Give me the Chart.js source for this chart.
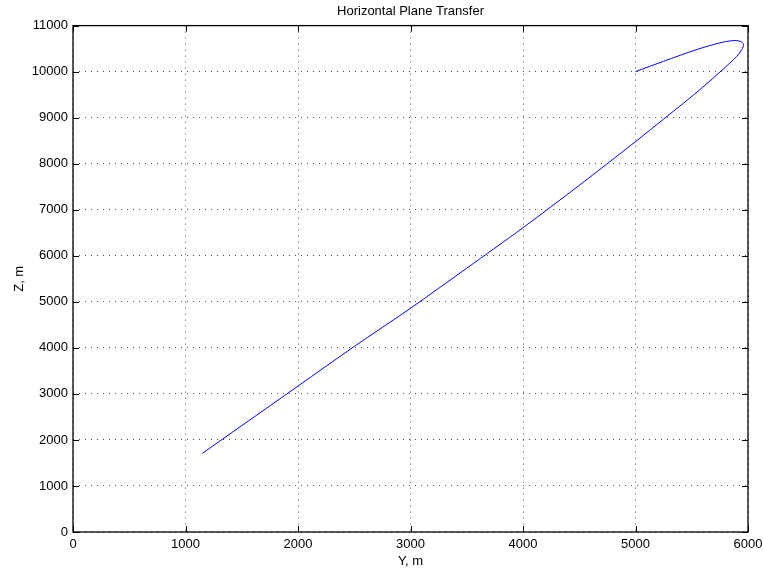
<!DOCTYPE html>
<html>
<head>
  <meta charset="utf-8" />
  <title>Horizontal Plane Transfer</title>
  <style>
    html, body { margin: 0; padding: 0; background: #fff; }
    canvas { display: block; }
  </style>
</head>
<body>
  <canvas id="stage" width="763" height="569"></canvas>

  <script src="https://cdn.jsdelivr.net/npm/chart.js@4.4.0/dist/chart.umd.min.js"></script>
  <script>
    // trajectory: Y (horizontal) and Z (vertical), metres
    const yPos = [1150, 1500, 2000, 2500, 3000, 3500, 4000, 4500, 5000, 5250, 5480, 5630,
                  5750, 5900, 5945, 5960, 5930, 5870, 5750, 5545, 5250, 5000];
    const zPos = [1710, 2310, 3170, 4030, 4860, 5730, 6610, 7530, 8480, 8970, 9420, 9730,
                  9990, 10330, 10480, 10590, 10660, 10675, 10625, 10480, 10225, 10000];

    const xTicks = [0, 1000, 2000, 3000, 4000, 5000, 6000];
    const yTicks = [0, 1000, 2000, 3000, 4000, 5000, 6000, 7000, 8000, 9000, 10000, 11000];

    const FONT = 'Liberation Sans, Arial, Helvetica, sans-serif';
    const points = yPos.map((y, i) => ({ x: y, y: zPos[i] }));

    // box round the axes with inward tick marks on all four sides
    const boxPlugin = {
      id: 'box',
      afterDatasetsDraw(chart) {
        const { ctx, chartArea: a, scales } = chart;
        const len = 6;
        ctx.save();
        ctx.strokeStyle = '#000';
        ctx.lineWidth = 1;
        ctx.beginPath();
        xTicks.forEach(v => {
          const px = Math.round(scales.x.getPixelForValue(v)) + 0.5;
          ctx.moveTo(px, a.bottom); ctx.lineTo(px, a.bottom - len);
          ctx.moveTo(px, a.top); ctx.lineTo(px, a.top + len);
        });
        yTicks.forEach(v => {
          const py = Math.round(scales.y.getPixelForValue(v)) + 0.5;
          ctx.moveTo(a.left, py); ctx.lineTo(a.left + len, py);
          ctx.moveTo(a.right, py); ctx.lineTo(a.right - len, py);
        });
        ctx.stroke();
        ctx.lineWidth = 1.3;
        ctx.strokeRect(a.left, a.top, a.right - a.left, a.bottom - a.top);
        ctx.restore();
      }
    };

    const plain = v => String(v);

    new Chart(document.getElementById('stage'), {
      type: 'scatter',
      data: {
        datasets: [{
          data: points,
          showLine: true,
          borderColor: 'rgb(0, 0, 255)',
          borderWidth: 1,
          pointRadius: 0,
          tension: 0.3,
          fill: false
        }]
      },
      options: {
        responsive: false,
        animation: false,
        devicePixelRatio: 1,
        layout: { padding: { left: 0, right: 15, top: 0, bottom: 0 } },
        plugins: {
          legend: { display: false },
          tooltip: { enabled: false },
          title: {
            display: true,
            fullSize: false,
            text: 'Horizontal Plane Transfer',
            color: '#000',
            font: { family: FONT, size: 13, weight: 'normal' },
            padding: { top: 4, bottom: 6 }
          }
        },
        scales: {
          x: {
            type: 'linear',
            min: 0,
            max: 6000,
            afterBuildTicks: s => { s.ticks = xTicks.map(v => ({ value: v })); },
            afterFit: s => { s.height = 37; s.paddingRight = 0; s.paddingLeft = 0; },
            ticks: { color: '#000', font: { family: FONT, size: 13 }, padding: 5, maxRotation: 0, callback: plain },
            grid: { color: 'rgba(0,0,0,0.7)', lineWidth: 1, drawTicks: false },
            border: { display: false, dash: [1, 5] },
            title: {
              display: true,
              text: 'Y, m',
              color: '#000',
              font: { family: FONT, size: 13 },
              padding: { top: 0, bottom: 0 }
            }
          },
          y: {
            type: 'linear',
            min: 0,
            max: 11000,
            afterBuildTicks: s => { s.ticks = yTicks.map(v => ({ value: v })); },
            afterFit: s => { s.width = 73; },
            ticks: { color: '#000', font: { family: FONT, size: 13 }, padding: 5, callback: plain },
            grid: { color: 'rgba(0,0,0,0.7)', lineWidth: 1, drawTicks: false },
            border: { display: false, dash: [1, 5] },
            title: {
              display: true,
              text: 'Z, m',
              color: '#000',
              font: { family: FONT, size: 13 },
              padding: { top: 12, bottom: 0 }
            }
          }
        }
      },
      plugins: [boxPlugin]
    });
  </script>
</body>
</html>
